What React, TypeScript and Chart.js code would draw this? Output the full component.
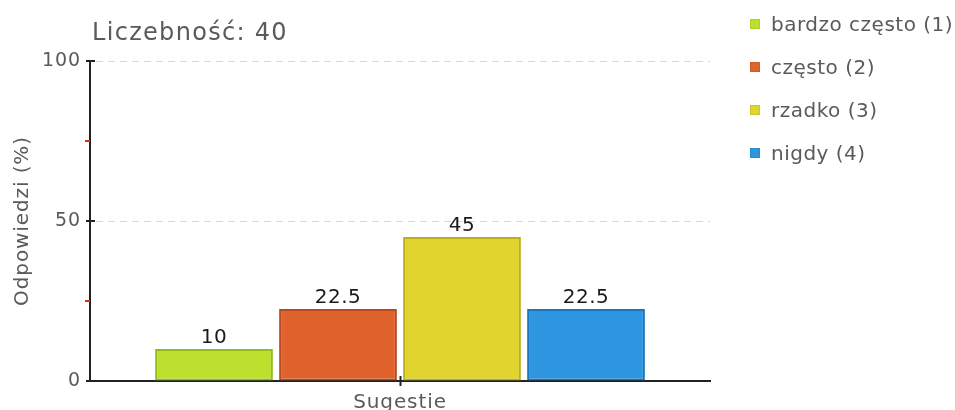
import React, { useEffect, useRef } from "react";
import { Chart, registerables } from "chart.js";

Chart.register(...registerables);

const categories = ["Sugestie"];
const seriesLabels = ["bardzo często (1)", "często (2)", "rzadko (3)", "nigdy (4)"];
const seriesValues = [[10], [22.5], [45], [22.5]];
const fillColors = ["#bde02e", "#e0632e", "#e0d42e", "#2e96e0"];
const borderColors = ["#95ba1c", "#b9481c", "#bcae1a", "#1a74bc"];
const yTicks = [0, 50, 100];
const yMinorTicks = [25, 75];
const titleText = "Liczebność: 40";
const yAxisTitle = "Odpowiedzi (%)";

const FONT = "'DejaVu Sans', Verdana, sans-serif";

const spacingPlugin = {
  id: "spacing",
  beforeDraw(chart: any) {
    chart.ctx.letterSpacing = "0.9px";
  },
};

const decorPlugin = {
  id: "decor",
  afterDraw(chart: any) {
    const { ctx, chartArea, scales } = chart;
    const y = scales.y;
    const x = scales.x;
    ctx.save();
    // minor red ticks
    ctx.strokeStyle = "#e8202a";
    ctx.lineWidth = 2;
    yMinorTicks.forEach((v) => {
      const py = Math.round(y.getPixelForValue(v));
      ctx.beginPath();
      ctx.moveTo(chartArea.left - 5, py);
      ctx.lineTo(chartArea.left, py);
      ctx.stroke();
    });
    // major ticks
    ctx.strokeStyle = "#222";
    yTicks.forEach((v) => {
      const py = Math.round(y.getPixelForValue(v));
      ctx.beginPath();
      ctx.moveTo(chartArea.left - 4, py);
      ctx.lineTo(chartArea.left + 5, py);
      ctx.stroke();
    });
    categories.forEach((_c, i) => {
      const px = Math.round(x.getPixelForValue(i)) + 0.5;
      ctx.lineWidth = 2;
      ctx.beginPath();
      ctx.moveTo(px, chartArea.bottom - 5);
      ctx.lineTo(px, chartArea.bottom + 5);
      ctx.stroke();
    });
    // data labels
    ctx.fillStyle = "#1a1a1a";
    ctx.font = `20px ${FONT}`;
    ctx.letterSpacing = "0.5px";
    ctx.textAlign = "center";
    ctx.textBaseline = "alphabetic";
    chart.data.datasets.forEach((ds: any, di: number) => {
      const meta = chart.getDatasetMeta(di);
      meta.data.forEach((bar: any, i: number) => {
        ctx.fillText(String(ds.data[i]), bar.x, bar.y - 6);
      });
    });
    // title
    ctx.fillStyle = "#5a5a5a";
    ctx.font = `24px ${FONT}`;
    ctx.letterSpacing = "1.3px";
    ctx.textAlign = "left";
    ctx.fillText(titleText, chartArea.left + 2, 40);
    // legend
    ctx.font = `20px ${FONT}`;
    ctx.letterSpacing = "0.5px";
    chart.data.datasets.forEach((ds: any, di: number) => {
      const top = 19 + di * 43;
      ctx.fillStyle = ds.backgroundColor;
      ctx.fillRect(750, top, 10, 10);
      ctx.strokeStyle = "rgba(0,0,0,0.08)";
      ctx.lineWidth = 1;
      ctx.strokeRect(750.5, top + 0.5, 9, 9);
      ctx.fillStyle = "#5a5a5a";
      ctx.fillText(ds.label, 771, top + 12);
    });
    ctx.restore();
  },
};

export default function App() {
  const canvasRef = useRef<HTMLCanvasElement | null>(null);

  useEffect(() => {
    document.body.style.margin = "0";
    const canvas = canvasRef.current;
    if (!canvas) return;
    const chart = new Chart(canvas, {
      type: "bar",
      data: {
        labels: categories,
        datasets: seriesLabels.map((label, i) => ({
          label,
          data: seriesValues[i],
          backgroundColor: fillColors[i],
          borderColor: borderColors[i],
          borderWidth: 2,
          borderSkipped: false,
          categoryPercentage: 0.8,
          barPercentage: 0.95,
        })),
      },
      options: {
        responsive: false,
        animation: false,
        layout: { padding: { left: 0, right: 245, top: 61, bottom: 0 } },
        plugins: {
          legend: { display: false },
          title: { display: false },
          tooltip: { enabled: false },
        },
        scales: {
          x: {
            type: "category",
            grid: { display: false },
            border: { display: true, color: "#222", width: 2 },
            ticks: {
              color: "#5a5a5a",
              font: { family: FONT, size: 20 },
              padding: 2,
              maxRotation: 0,
            },
            afterFit: (s: any) => {
              s.height = 29;
            },
          },
          y: {
            min: 0,
            max: 100,
            afterBuildTicks: (s: any) => {
              s.ticks = yTicks.map((v) => ({ value: v }));
            },
            grid: {
              color: (c: any) =>
                c.tick && c.tick.value === 0 ? "rgba(0,0,0,0)" : "#d9d9d9",
              lineWidth: 1,
              drawTicks: false,
            },
            border: { display: true, color: "#222", width: 2, dash: [7, 5], dashOffset: 7 },
            ticks: {
              color: "#5a5a5a",
              font: { family: FONT, size: 19 },
              padding: 9,
            },
            title: {
              display: true,
              text: yAxisTitle,
              color: "#5a5a5a",
              font: { family: FONT, size: 20 },
              padding: { top: 11, bottom: 0 },
            },
            afterFit: (s: any) => {
              s.width = 90;
            },
          },
        },
      },
      plugins: [spacingPlugin, decorPlugin],
    } as any);
    return () => chart.destroy();
  }, []);

  return (
    <div style={{ width: 955, height: 410 }}>
      <canvas ref={canvasRef} width={955} height={410} />
    </div>
  );
}
